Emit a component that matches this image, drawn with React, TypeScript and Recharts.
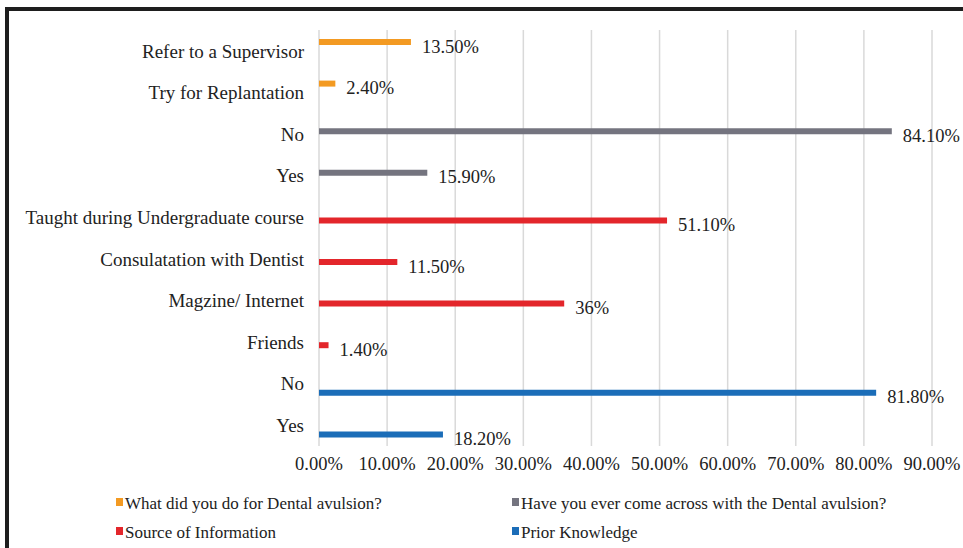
import React from 'react'
import {
  BarChart,
  Bar,
  XAxis,
  YAxis,
  CartesianGrid,
  LabelList,
} from 'recharts'

// categories, top to bottom
const categories = [
  'Refer to a Supervisor',
  'Try for Replantation',
  'No',
  'Yes',
  'Taught during Undergraduate course',
  'Consulatation with Dentist',
  'Magzine/ Internet',
  'Friends',
  'No',
  'Yes',
]

// which series each category belongs to
const seriesOfRow = ['action', 'action', 'seen', 'seen', 'source', 'source', 'source', 'source', 'prior', 'prior']

const values = [13.5, 2.4, 84.1, 15.9, 51.1, 11.5, 36, 1.4, 81.8, 18.2]

const valueLabels = ['13.50%', '2.40%', '84.10%', '15.90%', '51.10%', '11.50%', '36%', '1.40%', '81.80%', '18.20%']

const xTicks = [0, 10, 20, 30, 40, 50, 60, 70, 80, 90]

const series = [
  { key: 'action', name: 'What did you do for Dental avulsion?', color: '#f39a22' },
  { key: 'seen', name: 'Have you ever come across with the Dental avulsion?', color: '#74747f' },
  { key: 'source', name: 'Source of Information', color: '#e3262b' },
  { key: 'prior', name: 'Prior Knowledge', color: '#1b6db8' },
]

const data = categories.map((name, i) => ({
  id: `c${i}`,
  name,
  [seriesOfRow[i]]: values[i],
  [`${seriesOfRow[i]}Label`]: valueLabels[i],
}))

const font = '"Liberation Serif", serif'

const legendRows = [
  [series[0], series[1]],
  [series[2], series[3]],
]

export default function App() {
  return (
    <div
      style={{
        position: 'absolute',
        left: 0,
        top: 0,
        width: 963,
        height: 548,
        background: '#fff',
        fontFamily: font,
        overflow: 'hidden',
      }}
    >
      {/* frame */}
      <div style={{ position: 'absolute', left: 5, top: 7, width: 958, height: 4, background: '#1e1e1e' }} />
      <div style={{ position: 'absolute', left: 5, top: 7, width: 4, height: 541, background: '#1e1e1e' }} />

      <BarChart
        width={963}
        height={548}
        data={data}
        layout="vertical"
        margin={{ top: 30, right: 31, left: 0, bottom: 72 }}
        barSize={6}
        barGap={0}
      >
        <CartesianGrid horizontal={false} stroke="#d9d9d9" strokeWidth={1.5} />
        <XAxis
          type="number"
          domain={[0, 90]}
          ticks={xTicks}
          tickFormatter={(v: number) => `${v.toFixed(2)}%`}
          axisLine={false}
          tickLine={false}
          tickMargin={5}
          height={30}
          tick={{ fontSize: 18.5, fill: '#222', fontFamily: font }}
          interval={0}
        />
        <YAxis
          type="category"
          dataKey="id"
          width={319}
          axisLine={false}
          tickLine={false}
          tickMargin={9}
          interval={0}
          tickFormatter={(id: string) => categories[Number(id.slice(1))]}
          tick={{ fontSize: 19, fill: '#222', fontFamily: font }}
        />
        {series.map((s) => (
          <Bar key={s.key} dataKey={s.key} name={s.name} fill={s.color} isAnimationActive={false}>
            <LabelList
              dataKey={`${s.key}Label`}
              position="right"
              offset={11}
              style={{ fontSize: 18.5, fill: '#222', fontFamily: font }}
              dy={4}
            />
          </Bar>
        ))}
      </BarChart>

      {/* legend */}
      {legendRows.map((row, r) =>
        row.map((s, c) => (
          <div
            key={s.key}
            style={{
              position: 'absolute',
              left: c === 0 ? 116 : 512,
              top: r === 0 ? 494 : 523,
              display: 'flex',
              alignItems: 'center',
              fontSize: 17,
              color: '#222',
              whiteSpace: 'nowrap',
            }}
          >
            <span
              style={{
                display: 'inline-block',
                width: 7,
                height: 8,
                background: s.color,
                marginRight: 2,
                marginTop: -4,
              }}
            />
            {s.name}
          </div>
        ))
      )}
    </div>
  )
}
